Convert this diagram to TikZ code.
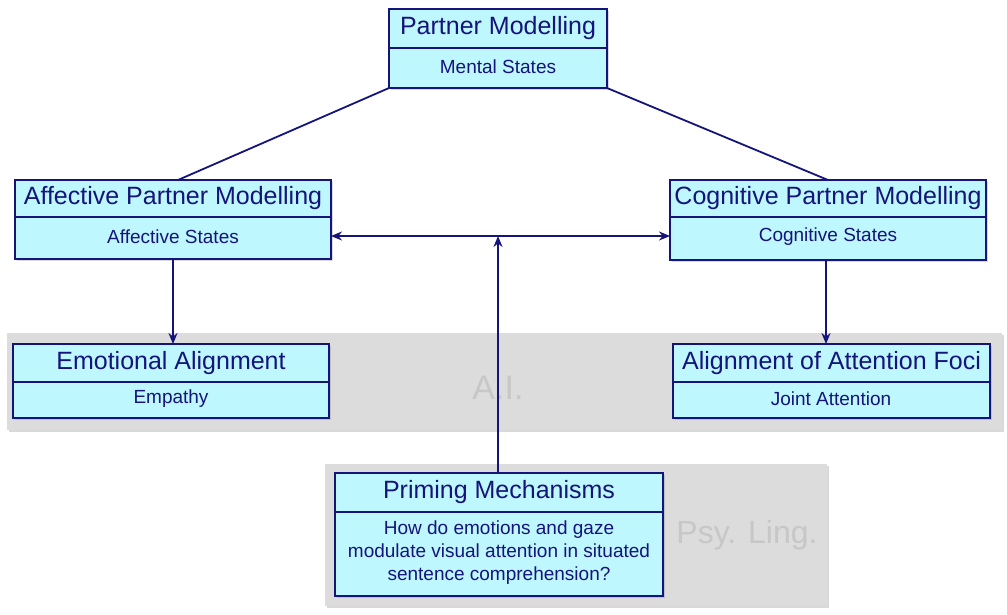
\documentclass[tikz,border=0pt]{standalone}
\usepackage{fontspec}
\setmainfont{Liberation Sans}
\usetikzlibrary{arrows.meta,shadows}
\definecolor{nv}{HTML}{14147A}
\definecolor{cy}{HTML}{BFF7FF}
\definecolor{band}{HTML}{DCDCDC}
\tikzset{
 box/.style={draw=nv,fill=cy,line width=1.8pt,drop shadow={shadow xshift=2pt,shadow yshift=-2pt,opacity=0.3}},
 ttl/.style={text=nv,font=\fontsize{25}{28}\selectfont},
 sub/.style={text=nv,font=\fontsize{19}{23}\selectfont,align=center},
 con/.style={draw=nv,line width=1.8pt},
 arr/.style={con,-{Stealth[length=11pt,width=9pt]}},
 bandst/.style={fill=band,drop shadow={shadow xshift=2pt,shadow yshift=-2pt,opacity=0.3}}
}
\newcommand{\ubox}[7]{%
 \draw[box] (#2,#3) rectangle (#4,#5);
 \draw[con] (#2,#6) -- (#4,#6);
 \node[ttl] (#1t) at ({(#2+#4)/2},{(#3+#6)/2}) {#7};
 \coordinate (#1) at ({(#2+#4)/2},{(#3+#5)/2});
}
\begin{document}
\begin{tikzpicture}[x=1pt,y=-1pt]
\useasboundingbox (0,0) rectangle (1007,614);
\fill[bandst] (7,333) rectangle (1002,430);
\node[text=black!22,font=\fontsize{34}{40}\selectfont] (ai) at (498,388) {A.I.};
\fill[bandst] (325,464) rectangle (827,606);
\node[text=black!22,font=\fontsize{32}{38}\selectfont] (pl) at (747,535) {Psy. Ling.};

\ubox{pm}{389}{9}{607}{88}{48}{Partner Modelling}
\node[sub] (pms) at (498,67) {Mental States};
\ubox{af}{15}{180}{331}{259}{217}{Affective Partner Modelling}
\node[sub] (afs) at (173,237) {Affective States};
\ubox{cg}{670}{180}{986}{260}{217}{Cognitive Partner Modelling}
\node[sub] (cgs) at (828,237) {Cognitive States};
\ubox{ea}{13}{344}{329}{418}{382}{Emotional Alignment}
\node[sub] (eas) at (171,399) {Empathy};
\ubox{at}{673}{344}{990}{418}{382}{Alignment of Attention Foci}
\node[sub] (ats) at (831,399) {Joint Attention};
\ubox{pr}{335}{473}{663}{596}{512}{Priming Mechanisms}
\node[sub] (prs) at (499,553) {How do emotions and gaze\\modulate visual attention in situated\\sentence comprehension?};

\coordinate (pmL) at (389,88); \coordinate (pmR) at (607,88);
\coordinate (afT) at (178,180); \coordinate (cgT) at (828,180);
\draw[con] (pmL) -- (afT);
\draw[con] (pmR) -- (cgT);
\coordinate (afR) at (331,236); \coordinate (cgL) at (670,236);
\draw[con,{Stealth[length=11pt,width=9pt]}-{Stealth[length=11pt,width=9pt]}] (afR) -- (cgL);
\coordinate (prT) at (498,473); \coordinate (mid) at (498,236);
\draw[arr] (prT) -- (mid);
\draw[arr] (173,259) -- (173,344);
\draw[arr] (826,260) -- (826,344);
\end{tikzpicture}
\end{document}
